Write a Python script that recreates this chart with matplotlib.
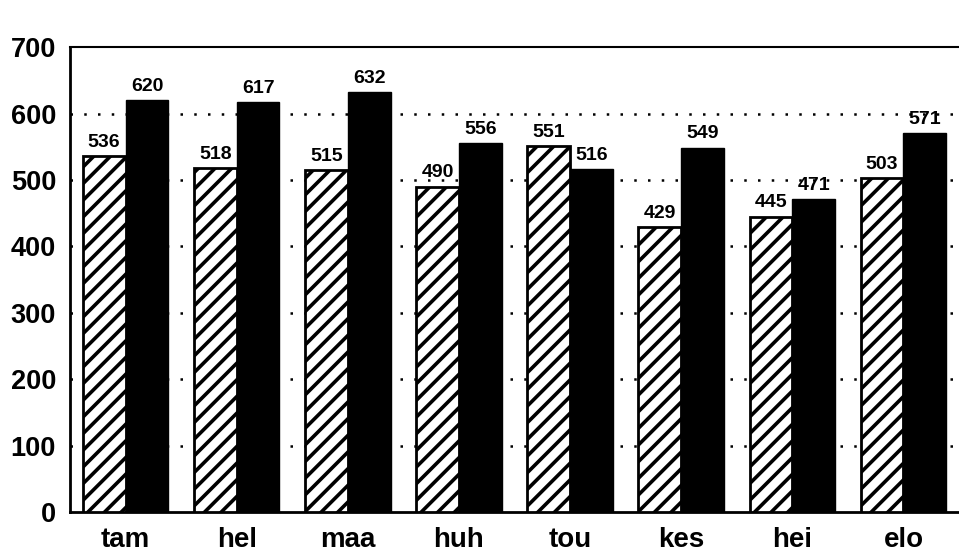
import matplotlib.pyplot as plt
import numpy as np

plt.rcParams['font.family'] = ['Liberation Sans', 'DejaVu Sans']
plt.rcParams['hatch.linewidth'] = 2.6

categories = ['tam', 'hel', 'maa', 'huh', 'tou', 'kes', 'hei', 'elo']
hatched_vals = [536, 518, 515, 490, 551, 429, 445, 503]
black_vals = [620, 617, 632, 556, 516, 549, 471, 571]
yticks = [0, 100, 200, 300, 400, 500, 600, 700]

fig = plt.figure(figsize=(9.59, 5.56), dpi=100)
ax = fig.add_axes([0.073, 0.079, 0.927, 0.836])

x = np.arange(len(categories))
w = 0.385
ax.bar(x - w / 2, hatched_vals, w, color='white', edgecolor='black',
       linewidth=2, hatch='//', zorder=3)
ax.bar(x + w / 2, black_vals, w, color='black', edgecolor='black',
       linewidth=1, zorder=3)

# value labels above bars
for xi, v in zip(x - w / 2, hatched_vals):
    ax.text(xi, v + 8, str(v), ha='center', va='bottom', fontsize=14,
            fontweight='bold', zorder=4)
for xi, v in zip(x + w / 2, black_vals):
    ax.text(xi, v + 8, str(v), ha='center', va='bottom', fontsize=14,
            fontweight='bold', zorder=4)

ax.set_xlim(-0.5, len(categories) - 0.5)
ax.set_ylim(0, 700)
ax.set_yticks(yticks)
ax.set_yticklabels([str(t) for t in yticks], fontsize=19.5, fontweight='bold')
ax.set_xticks(x)
ax.set_xticklabels(categories, fontsize=20, fontweight='bold')
ax.tick_params(axis='y', length=0, pad=10)
ax.tick_params(axis='x', length=0, pad=11)

for t in yticks[1:-1]:
    ax.axhline(t, color='black', linestyle=(0, (1, 4.5)), linewidth=1.8, zorder=1)

ax.spines['right'].set_visible(False)
for s in ['left', 'bottom']:
    ax.spines[s].set_linewidth(2)
ax.spines['top'].set_linewidth(1.5)

fig.savefig('out.png', dpi=100)
